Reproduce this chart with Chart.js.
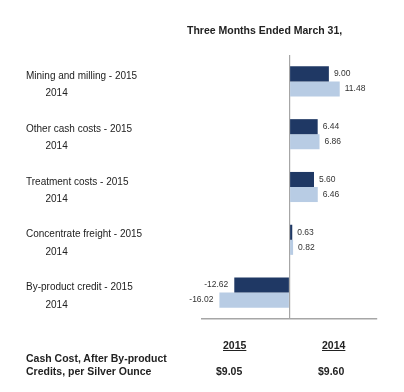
<!DOCTYPE html>
<html lang="en">
<head>
    <meta charset="UTF-8">
    <title>Cash Cost per Silver Ounce</title>
    <script src="https://cdn.jsdelivr.net/npm/chart.js"></script>
    <style>
        body {
            margin: 0;
            background: #fff;
            font-family: Arial, "Liberation Sans", sans-serif;
            color: #222;
        }
        #wrap {
            position: relative;
            width: 404px;
            height: 392px;
        }
        #grafica {
            position: absolute;
            left: 0; top: 0;
        }
        .txt {
            position: absolute;
            font-weight: bold;
            font-size: 10.5px;
            white-space: nowrap;
            line-height: 13px;
        }
        .u { text-decoration: underline; }
    </style>
</head>
<body>
<div id="wrap">
    <canvas id="grafica" width="404" height="392"></canvas>
    <div class="txt" style="left:187px; top:24px;">Three Months Ended March 31,</div>
    <div class="txt u" id="h2015" style="left:223px; top:339px;"></div>
    <div class="txt u" id="h2014" style="left:322px; top:339px;"></div>
    <div class="txt" style="left:26px; top:352px;">Cash Cost, After By-product<br>Credits, per Silver Ounce</div>
    <div class="txt" id="v2015" style="left:216px; top:365px;"></div>
    <div class="txt" id="v2014" style="left:318px; top:365px;"></div>
</div>

<script>
    // datos
    const categorias = [
        'Mining and milling',
        'Other cash costs',
        'Treatment costs',
        'Concentrate freight',
        'By-product credit'
    ];
    const valores2015 = [9.00, 6.44, 5.60, 0.63, -12.62];
    const valores2014 = [11.48, 6.86, 6.46, 0.82, -16.02];
    const anios = ['2015', '2014'];
    const costoFinal = ['$9.05', '$9.60'];

    document.getElementById('h2015').textContent = anios[0];
    document.getElementById('h2014').textContent = anios[1];
    document.getElementById('v2015').textContent = costoFinal[0];
    document.getElementById('v2014').textContent = costoFinal[1];

    const etiquetas = categorias.map(c => [c + ' - ' + anios[0], '       ' + anios[1]]);

    // numeros al final de cada barra
    const numerosBarras = {
        id: 'numerosBarras',
        afterDatasetsDraw(chart) {
            const c = chart.ctx;
            c.save();
            c.font = '8.5px Arial, "Liberation Sans", sans-serif';
            c.fillStyle = '#333';
            c.textBaseline = 'middle';
            chart.data.datasets.forEach((ds, i) => {
                chart.getDatasetMeta(i).data.forEach((bar, j) => {
                    const v = ds.data[j];
                    const txt = v.toFixed(2);
                    if (v >= 0) {
                        c.textAlign = 'left';
                        c.fillText(txt, bar.x + 5, bar.y);
                    } else {
                        c.textAlign = 'right';
                        c.fillText(txt, bar.x - 6, bar.y);
                    }
                });
            });
            c.restore();
        }
    };

    const ctx = document.getElementById('grafica').getContext('2d');
    const grafica = new Chart(ctx, {
        type: 'bar',
        data: {
            labels: etiquetas,
            datasets: [{
                label: anios[0],
                data: valores2015,
                backgroundColor: '#1f3864',
                barPercentage: 1,
                categoryPercentage: 0.57
            }, {
                label: anios[1],
                data: valores2014,
                backgroundColor: '#b8cce4',
                barPercentage: 1,
                categoryPercentage: 0.57
            }]
        },
        options: {
            indexAxis: 'y',
            responsive: false,
            animation: false,
            layout: { padding: { top: 55, bottom: 73, left: 26, right: 27 } },
            plugins: {
                legend: { display: false },
                tooltip: { enabled: false }
            },
            scales: {
                x: {
                    min: -20,
                    max: 20,
                    ticks: { display: false },
                    grid: {
                        drawTicks: false,
                        color: c => c.tick && c.tick.value === 0 ? '#a6a6a6' : 'rgba(0,0,0,0)',
                        lineWidth: 1.2
                    },
                    border: { display: true, color: '#a6a6a6', width: 1.5 }
                },
                y: {
                    grid: { display: false, drawTicks: false },
                    border: { display: false },
                    ticks: {
                        crossAlign: 'far',
                        color: '#222',
                        font: { family: 'Arial, "Liberation Sans", sans-serif', size: 10, lineHeight: 1.75 },
                        labelOffset: 3.5
                    },
                    afterFit(scale) { scale.width = 176; }
                }
            }
        },
        plugins: [numerosBarras]
    });
</script>
</body>
</html>
